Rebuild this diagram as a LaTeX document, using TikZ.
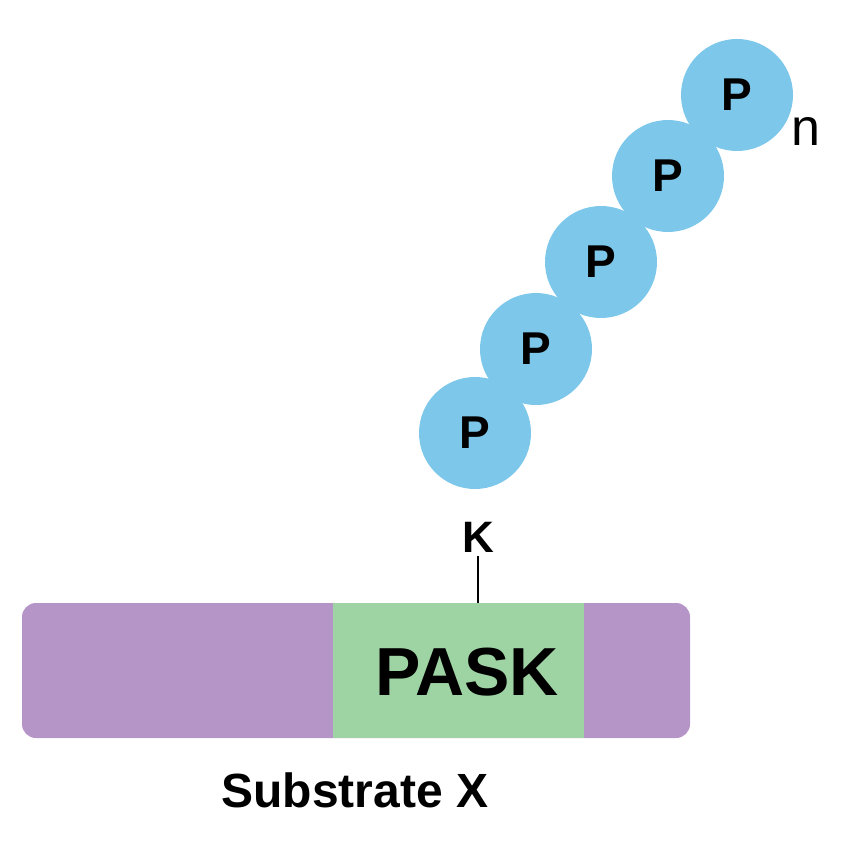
\documentclass[tikz,border=0pt]{standalone}
\usepackage{fontspec}
\setmainfont{Liberation Sans}
\definecolor{purp}{HTML}{B594C8}
\definecolor{grn}{HTML}{9ED4A4}
\definecolor{blu}{HTML}{7DC8EA}
\begin{document}
\begin{tikzpicture}[x=1pt,y=-1pt,
  ph/.style={circle,fill=blu,minimum size=112pt,inner sep=0pt,font=\fontsize{46}{46}\selectfont\bfseries}]
\useasboundingbox (0,0) rectangle (840,850);
\fill[purp,rounded corners=14pt] (22,603) rectangle (690,738);
\fill[grn] (333,603) rectangle (584,738);
\node[font=\fontsize{68}{68}\selectfont\bfseries] (pask) at (467,672) {PASK};
\node[font=\fontsize{48}{48}\selectfont\bfseries] (sub) at (355,790) {Substrate X};
\node[font=\fontsize{44}{44}\selectfont\bfseries] (k) at (478,537) {K};
\coordinate (top) at (478,603);
\draw[line width=2.5pt] (k.south) -- (top);
\node[ph] (p1) at (475,433) {P};
\node[ph] (p2) at (536,349) {P};
\node[ph] (p3) at (601,262) {P};
\node[ph] (p4) at (668,176) {P};
\node[ph] (p5) at (737,95) {P};
\node[font=\fontsize{52}{52}\selectfont] (n) at (806,132) {n};
\end{tikzpicture}
\end{document}
